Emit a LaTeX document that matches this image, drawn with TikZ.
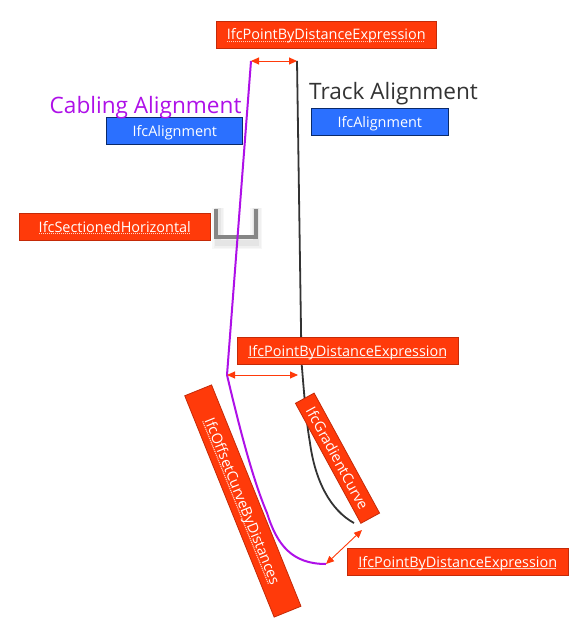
\documentclass[tikz,border=0pt]{standalone}
\usepackage{fontspec}
\setmainfont{Open Sans}
\usetikzlibrary{arrows.meta}
\definecolor{redfill}{HTML}{FF3A0A}
\definecolor{redline}{HTML}{C42A08}
\definecolor{bluefill}{HTML}{2B70FF}
\definecolor{blueline}{HTML}{0A2A6A}
\definecolor{cablepurple}{HTML}{AE10E8}
\definecolor{trackgrey}{HTML}{333333}
\definecolor{squiggle}{HTML}{FFD0C0}
\newcommand{\lbl}[1]{\raisebox{-5.5pt}[0pt][0pt]{#1}}
\newcommand{\squig}[1]{\lbl{\setbox0\hbox{#1}\rlap{\raisebox{-2.4pt}{\color{squiggle}\hbox to \wd0{\leaders\hbox to 2pt{\vrule width 1.1pt height 1.1pt depth 0pt\hss}\hfill}}}\box0}}
\tikzset{
  x=1pt,y=-1pt,
  redbox/.style={draw=redline,fill=redfill,line width=0.8pt,text=white,inner sep=0pt,anchor=center,font=\fontsize{14.45}{16}\selectfont},
  bluebox/.style={draw=blueline,fill=bluefill,line width=0.9pt,text=white,inner sep=0pt,anchor=center,font=\fontsize{14.45}{16}\selectfont},
  bigtitle/.style={inner sep=0pt,anchor=base west,font=\fontsize{22.6}{26}\selectfont},
  distarrow/.style={draw=redfill,line width=0.9pt,{Triangle[length=8pt,width=7pt]}-{Triangle[length=8pt,width=7pt]}},
  cableline/.style={draw=cablepurple,line width=2pt},
  trackline/.style={draw=trackgrey,line width=1.8pt},
  bracket/.style={draw=gray!95,line width=4pt,line join=miter}
}
\begin{document}
\begin{tikzpicture}
\useasboundingbox (0,0) rectangle (582,631);
\coordinate (ctop) at (251,61);
\coordinate (cmid) at (227,375);
\coordinate (cbend) at (267,513);
\coordinate (cend) at (326,564);
\coordinate (ttop) at (297,61);
\coordinate (tmid) at (301.5,362);
\coordinate (tbend) at (310,443);
\coordinate (tend) at (354,523);
\coordinate (acmid) at (227,375);
\coordinate (atmid) at (298,375);
\coordinate (agrad) at (362,530);
\coordinate (bl) at (216,209);
\coordinate (br) at (256,209);
\coordinate (bbl) at (216,237);
\coordinate (bbr) at (256,237);
% bracket glow
\foreach \w/\o in {12/6,9/12,6/20}{
  \draw[draw=gray!\o,line width=\w pt] ([xshift=2pt,yshift=1pt]bl) -- ([xshift=2pt,yshift=-6pt]bbl) -- ([xshift=0pt,yshift=-6pt]bbr) -- ([xshift=0pt,yshift=1pt]br);
}
\draw[bracket] (bl) -- (bbl) -- (bbr) -- (br);
% alignments
\draw[cableline,line join=round] (ctop) -- (cmid) .. controls (240,430) and (253,480) .. (cbend) .. controls (277,545) and (292,564) .. (cend);
\draw[trackline] (ttop) -- (tmid) .. controls (304,392) and (306,420) .. (tbend) .. controls (315,480) and (330,510) .. (tend);
% distance arrows
\draw[distarrow] (ctop) -- (ttop);
\draw[distarrow] (acmid) -- (atmid);
\draw[distarrow] (cend) -- (agrad);
% labels
\node[redbox,minimum width=220.5pt,minimum height=27pt] (p1) at (326.3,34.5) {\squig{IfcPointByDistanceExpression}};
\node[redbox,minimum width=221.5pt,minimum height=27pt] (p2) at (347.8,350.5) {\squig{IfcPointByDistanceExpression}};
\node[redbox,minimum width=221.5pt,minimum height=27pt] (p3) at (457.8,561.5) {\squig{IfcPointByDistanceExpression}};
\node[redbox,minimum width=191.5pt,minimum height=27pt] (sh) at (114.8,226.5) {\squig{IfcSectionedHorizontal}};
\node[redbox,minimum width=238.7pt,minimum height=28.9pt,rotate=-68] (oc) at (242.85,501) {\squig{IfcOffsetCurveByDistances}};
\node[redbox,minimum width=136.7pt,minimum height=21.3pt,rotate=-61.4] (gc) at (337.5,458.2) {\lbl{IfcGradientCurve}};
\node[bluebox,minimum width=136pt,minimum height=27pt] (a1) at (174.8,131) {\lbl{IfcAlignment}};
\node[bluebox,minimum width=137.5pt,minimum height=27pt] (a2) at (379.8,122) {\lbl{IfcAlignment}};
\node[bigtitle,text=cablepurple] (t1) at (49.5,114) {Cabling Alignment};
\node[bigtitle,text=trackgrey] (t2) at (309,100) {Track Alignment};
\end{tikzpicture}
\end{document}
